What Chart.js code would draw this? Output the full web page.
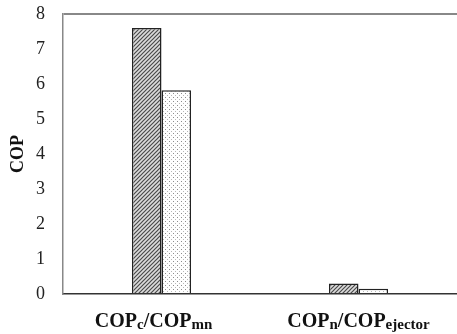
<!DOCTYPE html>
<html>
<head>
<meta charset="utf-8">
<script src="https://cdn.jsdelivr.net/npm/chart.js@4/dist/chart.umd.min.js"></script>
<style>
html,body{margin:0;padding:0;background:#fff;}
#wrap{width:457px;height:334px;}
</style>
</head>
<body>
<div id="wrap"><canvas id="c" width="457" height="334"></canvas></div>
<script>
// Categories (main text / subscript parts)
const categories = ["COPc/COPmn", "COPn/COPejector"];
const categoryParts = [
  [["COP", false], ["c", true], ["/COP", false], ["mn", true]],
  [["COP", false], ["n", true], ["/COP", false], ["ejector", true]]
];
const seriesA = [7.6, 0.3];
const seriesB = [5.82, 0.15];
const yTicks = [0, 1, 2, 3, 4, 5, 6, 7, 8];
const yTitle = "COP";

function hatchPattern() {
  const p = document.createElement('canvas');
  p.width = 4; p.height = 4;
  const g = p.getContext('2d');
  g.fillStyle = '#dcdcdc'; g.fillRect(0, 0, 4, 4);
  g.strokeStyle = '#4a4a4a'; g.lineWidth = 1.2;
  g.beginPath();
  g.moveTo(-1, 5); g.lineTo(5, -1);
  g.moveTo(-1, 1); g.lineTo(1, -1);
  g.moveTo(3, 5); g.lineTo(5, 3);
  g.stroke();
  return g.createPattern(p, 'repeat');
}
function dotPattern() {
  const p = document.createElement('canvas');
  p.width = 4; p.height = 4;
  const g = p.getContext('2d');
  g.fillStyle = '#ffffff'; g.fillRect(0, 0, 4, 4);
  g.fillStyle = '#8c8c8c';
  g.fillRect(1, 1, 1, 1);
  g.fillStyle = '#b8b8b8';
  g.fillRect(3, 3, 1, 1);
  return g.createPattern(p, 'repeat');
}

const labelOffsets = [-8, 0];
const labelPlugin = {
  id: 'subLabels',
  afterDraw(chart) {
    const ctx = chart.ctx;
    const xs = chart.scales.x;
    const mainFont = 'bold 20px "Liberation Serif", "Times New Roman", serif';
    const subFont = 'bold 15px "Liberation Serif", "Times New Roman", serif';
    ctx.save();
    ctx.fillStyle = '#111';
    ctx.textBaseline = 'alphabetic';
    ctx.textAlign = 'left';
    categoryParts.forEach((parts, i) => {
      let w = 0;
      parts.forEach(([t, sub]) => { ctx.font = sub ? subFont : mainFont; w += ctx.measureText(t).width; });
      let x = xs.getPixelForValue(i) + labelOffsets[i] - w / 2;
      const y = 327;
      parts.forEach(([t, sub]) => {
        ctx.font = sub ? subFont : mainFont;
        ctx.fillText(t, x, sub ? y + 1.5 : y);
        x += ctx.measureText(t).width;
      });
    });
    ctx.restore();
  }
};

new Chart(document.getElementById('c'), {
  type: 'bar',
  data: {
    labels: categories,
    datasets: [
      { data: seriesA, backgroundColor: hatchPattern(), borderColor: '#222', borderWidth: 1.5 },
      { data: seriesB, backgroundColor: dotPattern(), borderColor: '#222', borderWidth: 1.5 }
    ]
  },
  options: {
    responsive: false,
    animation: false,
    layout: { padding: { top: 14, right: 0, left: 0, bottom: 0 } },
    categoryPercentage: 0.3,
    barPercentage: 1.0,
    plugins: { legend: { display: false }, tooltip: { enabled: false } },
    scales: {
      x: {
        grid: { display: false, drawTicks: false },
        border: { display: true, color: '#333', width: 1.5 },
        ticks: { display: false },
        afterFit(s) { s.height = 40; }
      },
      y: {
        min: 0, max: 8,
        afterBuildTicks(s) { s.ticks = yTicks.map(v => ({ value: v })); },
        grid: {
          drawTicks: true,
          tickLength: 18,
          tickColor: 'rgba(0,0,0,0)',
          color: ctx => (ctx.tick && ctx.tick.value === 8) ? '#888' : 'rgba(0,0,0,0)',
          lineWidth: 2
        },
        border: { display: true, color: '#888', width: 1.5 },
        ticks: {
          padding: 0,
          color: '#222',
          font: { family: '"Liberation Serif", "Times New Roman", serif', size: 18 }
        },
        title: {
          display: true, text: yTitle, color: '#111',
          font: { family: '"Liberation Serif", "Times New Roman", serif', size: 18, weight: 'bold' },
          padding: { top: 8, bottom: 6 }
        },
        afterFit(s) { s.width = 63; }
      }
    }
  },
  plugins: [labelPlugin]
});
</script>
</body>
</html>
